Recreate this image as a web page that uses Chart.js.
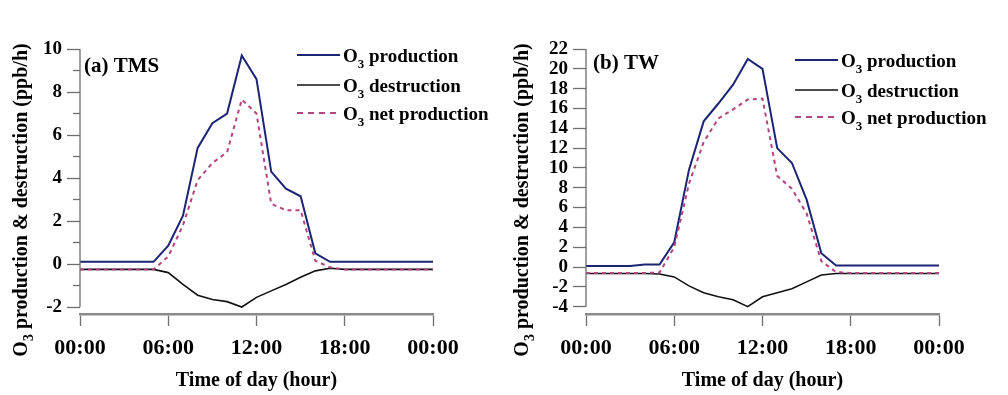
<!DOCTYPE html>
<html>
<head>
<meta charset="utf-8">
<script src="https://cdn.jsdelivr.net/npm/chart.js@4.4.0/dist/chart.umd.min.js"></script>
<style>
    html, body { margin: 0; padding: 0; background: #fff; }
    .row { display: flex; width: 1008px; height: 395px; }
    .panel { width: 504px; height: 395px; }
</style>
</head>
<body>
<div class="row">
    <div class="panel"><canvas id="chartTMS" width="504" height="395"></canvas></div>
    <div class="panel"><canvas id="chartTW" width="504" height="395"></canvas></div>
</div>
<script>
// Data (hourly, 00:00 -> 24:00)
const hours = [0, 1, 2, 3, 4, 5, 6, 7, 8, 9, 10, 11, 12, 13, 14, 15, 16, 17, 18, 19, 20, 21, 22, 23, 24];
const seriesNames = ['O₃ production', 'O₃ destruction', 'O₃ net production'];

const tmsProduction = [0.1, 0.1, 0.1, 0.1, 0.1, 0.1, 0.85, 2.25, 5.4, 6.55, 7.0, 9.7, 8.6, 4.3, 3.5, 3.15, 0.5, 0.1, 0.1, 0.1, 0.1, 0.1, 0.1, 0.1, 0.1];
const tmsDestruction = [-0.25, -0.25, -0.25, -0.25, -0.25, -0.25, -0.4, -0.95, -1.45, -1.65, -1.75, -2.0, -1.55, -1.25, -0.95, -0.62, -0.32, -0.2, -0.25, -0.25, -0.25, -0.25, -0.25, -0.25, -0.25];
const tmsNet = [-0.25, -0.25, -0.25, -0.25, -0.25, -0.25, 0.35, 1.8, 3.9, 4.7, 5.2, 7.65, 7.0, 2.8, 2.5, 2.5, 0.15, -0.15, -0.25, -0.25, -0.25, -0.25, -0.25, -0.25, -0.25];

const twProduction = [0.1, 0.1, 0.1, 0.1, 0.25, 0.25, 2.5, 9.8, 14.7, 16.5, 18.4, 21.0, 20.0, 12.0, 10.5, 6.8, 1.4, 0.15, 0.15, 0.15, 0.15, 0.15, 0.15, 0.15, 0.15];
const twDestruction = [-0.65, -0.65, -0.65, -0.65, -0.65, -0.7, -1.0, -1.9, -2.6, -3.0, -3.3, -4.0, -3.0, -2.6, -2.2, -1.5, -0.8, -0.65, -0.65, -0.65, -0.65, -0.65, -0.65, -0.65, -0.65];
const twNet = [-0.6, -0.6, -0.6, -0.6, -0.6, -0.55, 2.0, 8.4, 12.6, 15.0, 15.9, 16.9, 17.0, 9.2, 7.9, 5.4, 0.6, -0.5, -0.6, -0.6, -0.6, -0.6, -0.6, -0.6, -0.6];

const xTicks = [0, 6, 12, 18, 24];
const timeLabels = ['00:00', '06:00', '12:00', '18:00', '00:00'];
const tmsTicks = [-2, -1, 0, 1, 2, 3, 4, 5, 6, 7, 8, 9, 10];
const twTicks = [-4, -2, 0, 2, 4, 6, 8, 10, 12, 14, 16, 18, 20, 22];

const SERIF = '"Liberation Serif", "Times New Roman", serif';
const AXIS_GREY = '#6e6e6e';

document.addEventListener('DOMContentLoaded', () => {
    makePanel('chartTMS', {
        tag: '(a) TMS', prod: tmsProduction, dest: tmsDestruction, net: tmsNet,
        ticks: tmsTicks, yMin: -2.325, yMax: 10,
        axisLeft: 80, padRight: 71, titleX: 27,
        tagX: 84, tagY: 72, legendX: 297, legendY: [55, 85, 113]
    });
    makePanel('chartTW', {
        tag: '(b) TW', prod: twProduction, dest: twDestruction, net: twNet,
        ticks: twTicks, yMin: -4.74, yMax: 22,
        axisLeft: 82, padRight: 69, titleX: 24,
        tagX: 89, tagY: 69, legendX: 291, legendY: [60, 90, 117]
    });
});

// Text with a subscript "3"
function richText(ctx, text, x, y, size, draw) {
    const parts = text.split('₃');
    let cx = x;
    parts.forEach((part, i) => {
        if (i > 0) {
            ctx.font = `bold ${Math.round(size * 0.68)}px ${SERIF}`;
            if (draw) ctx.fillText('3', cx, y + size * 0.3);
            cx += ctx.measureText('3').width;
        }
        ctx.font = `bold ${size}px ${SERIF}`;
        if (draw) ctx.fillText(part, cx, y);
        cx += ctx.measureText(part).width;
    });
    return cx - x;
}

function toPoints(values) {
    return hours.map((h, i) => ({ x: h, y: values[i] }));
}

function makePanel(id, p) {
    const decor = {
        id: 'decor',
        afterDraw(chart) {
            const ctx = chart.ctx;
            const y = chart.scales.y;
            const area = chart.chartArea;
            ctx.save();

            // y axis line (stops at the lowest tick)
            ctx.strokeStyle = AXIS_GREY;
            ctx.lineWidth = 1.3;
            ctx.beginPath();
            ctx.moveTo(area.left, y.getPixelForValue(p.ticks[p.ticks.length - 1]));
            ctx.lineTo(area.left, y.getPixelForValue(p.ticks[0]));
            ctx.stroke();

            // minor ticks
            p.ticks.filter(v => v % 2 !== 0).forEach(v => {
                const py = y.getPixelForValue(v);
                ctx.beginPath();
                ctx.moveTo(area.left - 7, py);
                ctx.lineTo(area.left, py);
                ctx.stroke();
            });

            ctx.fillStyle = '#000';
            ctx.textBaseline = 'alphabetic';

            // y title
            ctx.save();
            ctx.translate(p.titleX, 200);
            ctx.rotate(-Math.PI / 2);
            const title = 'O₃ production & destruction (ppb/h)';
            const w = richText(ctx, title, 0, 0, 20, false);
            richText(ctx, title, -w / 2, 0, 20, true);
            ctx.restore();

            // panel tag
            ctx.font = `bold 21px ${SERIF}`;
            ctx.fillText(p.tag, p.tagX, p.tagY);

            // legend
            chart.data.datasets.forEach((ds, i) => {
                const ly = p.legendY[i];
                ctx.strokeStyle = ds.borderColor;
                ctx.lineWidth = ds.borderWidth;
                ctx.setLineDash(ds.borderDash ? [6, 5] : []);
                ctx.beginPath();
                ctx.moveTo(p.legendX, ly);
                ctx.lineTo(p.legendX + 43, ly);
                ctx.stroke();
                ctx.setLineDash([]);
                richText(ctx, ds.label, p.legendX + 46, ly + 7, 19, true);
            });
            ctx.restore();
        }
    };

    new Chart(document.getElementById(id), {
        type: 'line',
        data: {
            datasets: [
                { label: seriesNames[0], data: toPoints(p.prod), borderColor: '#1c2474', borderWidth: 2, order: 1 },
                { label: seriesNames[1], data: toPoints(p.dest), borderColor: '#111111', borderWidth: 1.6, order: 2 },
                { label: seriesNames[2], data: toPoints(p.net), borderColor: '#b0457f', borderWidth: 2, borderDash: [4, 4], order: 0 }
            ]
        },
        options: {
            responsive: false,
            animation: false,
            devicePixelRatio: 1,
            elements: { point: { radius: 0 }, line: { tension: 0 } },
            layout: { padding: { top: 49, right: p.padRight, bottom: 0, left: 0 } },
            plugins: { legend: { display: false }, tooltip: { enabled: false } },
            scales: {
                x: {
                    type: 'linear', min: 0, max: 24,
                    afterBuildTicks: s => { s.ticks = xTicks.map(v => ({ value: v })); },
                    afterFit: s => { s.height = 81; },
                    ticks: {
                        autoSkip: false, maxRotation: 0, padding: 9, color: '#000',
                        font: { family: SERIF, size: 22, weight: 'bold' },
                        callback: (v, i) => timeLabels[i]
                    },
                    grid: { drawOnChartArea: false, tickLength: 12, tickColor: AXIS_GREY, tickWidth: 1.3 },
                    border: { display: true, color: '#8a8a8a', width: 2.5 },
                    title: {
                        display: true, text: 'Time of day (hour)', color: '#000',
                        font: { family: SERIF, size: 20, weight: 'bold' },
                        padding: { top: 0, bottom: 2 }
                    }
                },
                y: {
                    min: p.yMin, max: p.yMax,
                    afterBuildTicks: s => { s.ticks = p.ticks.map(v => ({ value: v })); },
                    afterFit: s => { s.width = p.axisLeft; },
                    ticks: {
                        autoSkip: false, padding: 5, color: '#000',
                        font: { family: SERIF, size: 19, weight: 'bold', lineHeight: 1 },
                        callback: v => (v % 2 === 0 ? String(v) : '')
                    },
                    grid: {
                        drawOnChartArea: false, tickLength: 13, tickWidth: 1.3,
                        tickColor: c => (c.tick && c.tick.value % 2 === 0 ? AXIS_GREY : 'rgba(0,0,0,0)')
                    },
                    border: { display: false }
                }
            }
        },
        plugins: [decor]
    });
}
</script>
</body>
</html>
